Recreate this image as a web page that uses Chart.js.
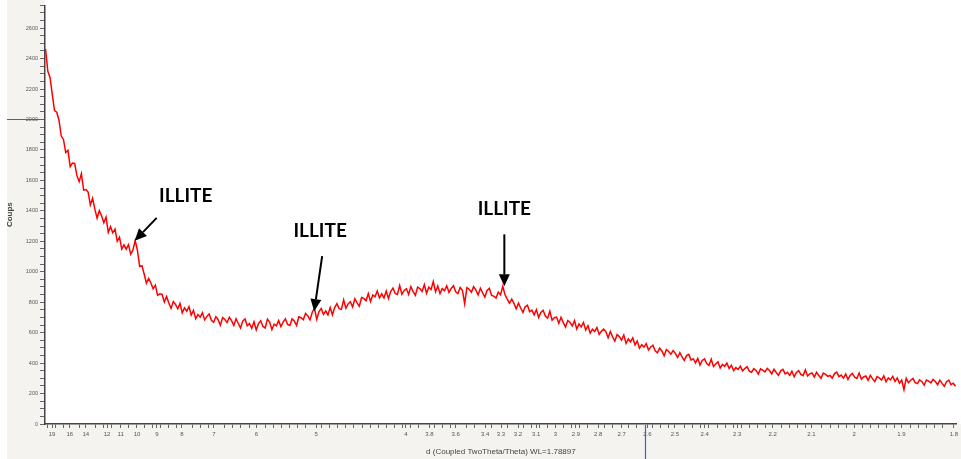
<!DOCTYPE html>
<html>
<head>
<meta charset="utf-8">
<script src="https://cdn.jsdelivr.net/npm/chart.js@4"></script>
<style>
  body { margin: 0; background: #fff; }
  #wrap { width: 961px; height: 459px; position: relative; }
</style>
</head>
<body>
<div id="wrap"><canvas id="xrd"></canvas></div>
<script>
// 1/d (1/Å) of each measured point, the x axis is laid out linearly in 1/d
const invD = [
  0.04900, 0.05025, 0.05150, 0.05275, 0.05400, 0.05525, 0.05650, 0.05775, 0.05900, 0.06025,
  0.06150, 0.06275, 0.06400, 0.06525, 0.06650, 0.06775, 0.06900, 0.07025, 0.07150, 0.07275,
  0.07400, 0.07525, 0.07650, 0.07775, 0.07900, 0.08025, 0.08150, 0.08275, 0.08400, 0.08525,
  0.08650, 0.08775, 0.08900, 0.09025, 0.09150, 0.09275, 0.09400, 0.09525, 0.09650, 0.09775,
  0.09900, 0.10025, 0.10150, 0.10275, 0.10400, 0.10525, 0.10650, 0.10775, 0.10900, 0.11025,
  0.11150, 0.11275, 0.11400, 0.11525, 0.11650, 0.11775, 0.11900, 0.12025, 0.12150, 0.12275,
  0.12400, 0.12525, 0.12650, 0.12775, 0.12900, 0.13025, 0.13150, 0.13275, 0.13400, 0.13525,
  0.13650, 0.13775, 0.13900, 0.14025, 0.14150, 0.14275, 0.14400, 0.14525, 0.14650, 0.14775,
  0.14900, 0.15025, 0.15150, 0.15275, 0.15400, 0.15525, 0.15650, 0.15775, 0.15900, 0.16025,
  0.16150, 0.16275, 0.16400, 0.16525, 0.16650, 0.16775, 0.16900, 0.17025, 0.17150, 0.17275,
  0.17400, 0.17525, 0.17650, 0.17775, 0.17900, 0.18025, 0.18150, 0.18275, 0.18400, 0.18525,
  0.18650, 0.18775, 0.18900, 0.19025, 0.19150, 0.19275, 0.19400, 0.19525, 0.19650, 0.19775,
  0.19900, 0.20025, 0.20150, 0.20275, 0.20400, 0.20525, 0.20650, 0.20775, 0.20900, 0.21025,
  0.21150, 0.21275, 0.21400, 0.21525, 0.21650, 0.21775, 0.21900, 0.22025, 0.22150, 0.22275,
  0.22400, 0.22525, 0.22650, 0.22775, 0.22900, 0.23025, 0.23150, 0.23275, 0.23400, 0.23525,
  0.23650, 0.23775, 0.23900, 0.24025, 0.24150, 0.24275, 0.24400, 0.24525, 0.24650, 0.24775,
  0.24900, 0.25025, 0.25150, 0.25275, 0.25400, 0.25525, 0.25650, 0.25775, 0.25900, 0.26025,
  0.26150, 0.26275, 0.26400, 0.26525, 0.26650, 0.26775, 0.26900, 0.27025, 0.27150, 0.27275,
  0.27400, 0.27525, 0.27650, 0.27775, 0.27900, 0.28025, 0.28150, 0.28275, 0.28400, 0.28525,
  0.28650, 0.28775, 0.28900, 0.29025, 0.29150, 0.29275, 0.29400, 0.29525, 0.29650, 0.29775,
  0.29900, 0.30025, 0.30150, 0.30275, 0.30400, 0.30525, 0.30650, 0.30775, 0.30900, 0.31025,
  0.31150, 0.31275, 0.31400, 0.31525, 0.31650, 0.31775, 0.31900, 0.32025, 0.32150, 0.32275,
  0.32400, 0.32525, 0.32650, 0.32775, 0.32900, 0.33025, 0.33150, 0.33275, 0.33400, 0.33525,
  0.33650, 0.33775, 0.33900, 0.34025, 0.34150, 0.34275, 0.34400, 0.34525, 0.34650, 0.34775,
  0.34900, 0.35025, 0.35150, 0.35275, 0.35400, 0.35525, 0.35650, 0.35775, 0.35900, 0.36025,
  0.36150, 0.36275, 0.36400, 0.36525, 0.36650, 0.36775, 0.36900, 0.37025, 0.37150, 0.37275,
  0.37400, 0.37525, 0.37650, 0.37775, 0.37900, 0.38025, 0.38150, 0.38275, 0.38400, 0.38525,
  0.38650, 0.38775, 0.38900, 0.39025, 0.39150, 0.39275, 0.39400, 0.39525, 0.39650, 0.39775,
  0.39900, 0.40025, 0.40150, 0.40275, 0.40400, 0.40525, 0.40650, 0.40775, 0.40900, 0.41025,
  0.41150, 0.41275, 0.41400, 0.41525, 0.41650, 0.41775, 0.41900, 0.42025, 0.42150, 0.42275,
  0.42400, 0.42525, 0.42650, 0.42775, 0.42900, 0.43025, 0.43150, 0.43275, 0.43400, 0.43525,
  0.43650, 0.43775, 0.43900, 0.44025, 0.44150, 0.44275, 0.44400, 0.44525, 0.44650, 0.44775,
  0.44900, 0.45025, 0.45150, 0.45275, 0.45400, 0.45525, 0.45650, 0.45775, 0.45900, 0.46025,
  0.46150, 0.46275, 0.46400, 0.46525, 0.46650, 0.46775, 0.46900, 0.47025, 0.47150, 0.47275,
  0.47400, 0.47525, 0.47650, 0.47775, 0.47900, 0.48025, 0.48150, 0.48275, 0.48400, 0.48525,
  0.48650, 0.48775, 0.48900, 0.49025, 0.49150, 0.49275, 0.49400, 0.49525, 0.49650, 0.49775,
  0.49900, 0.50025, 0.50150, 0.50275, 0.50400, 0.50525, 0.50650, 0.50775, 0.50900, 0.51025,
  0.51150, 0.51275, 0.51400, 0.51525, 0.51650, 0.51775, 0.51900, 0.52025, 0.52150, 0.52275,
  0.52400, 0.52525, 0.52650, 0.52775, 0.52900, 0.53025, 0.53150, 0.53275, 0.53400, 0.53525,
  0.53650, 0.53775, 0.53900, 0.54025, 0.54150, 0.54275, 0.54400, 0.54525, 0.54650, 0.54775,
  0.54900, 0.55025, 0.55150, 0.55275, 0.55400, 0.55525, 0.55650
];

// intensity (Coups)
const coups = [
  2464, 2318, 2276, 2165, 2059, 2048, 1995, 1891, 1869, 1783,
  1797, 1690, 1714, 1711, 1631, 1592, 1644, 1536, 1540, 1523,
  1439, 1482, 1411, 1352, 1401, 1368, 1322, 1359, 1259, 1296,
  1256, 1280, 1200, 1227, 1149, 1177, 1148, 1178, 1116, 1143,
  1205, 1140, 1035, 1040, 985, 925, 956, 926, 888, 912,
  845, 855, 851, 801, 838, 795, 759, 804, 785, 757,
  792, 730, 763, 741, 771, 715, 746, 691, 719, 702,
  731, 684, 707, 723, 681, 668, 705, 685, 649, 699,
  686, 666, 701, 679, 647, 691, 660, 631, 676, 690,
  645, 660, 629, 671, 617, 659, 678, 641, 631, 689,
  670, 621, 656, 645, 680, 640, 669, 691, 654, 647,
  690, 676, 647, 704, 698, 685, 726, 710, 684, 734,
  760, 687, 739, 759, 720, 742, 717, 765, 717, 765,
  790, 758, 753, 815, 760, 788, 803, 769, 823, 795,
  774, 831, 825, 809, 856, 804, 847, 835, 874, 828,
  855, 828, 874, 824, 870, 893, 858, 851, 910, 852,
  877, 889, 851, 902, 870, 845, 899, 890, 871, 915,
  859, 899, 883, 935, 869, 906, 856, 889, 875, 908,
  864, 890, 908, 868, 857, 896, 878, 790, 896, 885,
  866, 902, 880, 848, 892, 861, 834, 877, 891, 845,
  840, 827, 865, 848, 905, 849, 820, 793, 820, 792,
  757, 794, 762, 733, 770, 780, 737, 748, 717, 751,
  699, 733, 747, 709, 695, 741, 682, 698, 702, 661,
  701, 666, 637, 680, 667, 644, 679, 624, 657, 638,
  667, 617, 646, 597, 623, 607, 633, 589, 609, 623,
  607, 566, 607, 572, 544, 587, 574, 551, 585, 529,
  559, 540, 566, 519, 545, 498, 521, 505, 528, 487,
  506, 518, 481, 468, 498, 480, 448, 489, 476, 458,
  483, 464, 437, 468, 441, 417, 449, 457, 420, 429,
  402, 431, 387, 417, 428, 397, 385, 426, 378, 394,
  408, 368, 392, 379, 400, 365, 386, 351, 370, 359,
  379, 349, 364, 376, 347, 340, 364, 352, 328, 362,
  354, 342, 365, 351, 329, 359, 338, 319, 349, 359,
  329, 339, 319, 346, 310, 338, 350, 326, 318, 355,
  315, 329, 335, 308, 340, 318, 300, 334, 326, 313,
  319, 301, 331, 341, 311, 321, 301, 328, 292, 320,
  332, 307, 299, 335, 295, 309, 315, 287, 319, 296,
  278, 311, 303, 289, 317, 278, 303, 290, 313, 279,
  302, 268, 289, 225, 300, 271, 287, 300, 272, 265,
  290, 278, 255, 289, 282, 270, 293, 279, 258, 288,
  267, 248, 278, 288, 258, 268, 248
];

// labelled d-spacings on the x axis
const xTickLabels = [19, 16, 14, 12, 11, 10, 9, 8, 7, 6, 5, 4, 3.8, 3.6, 3.4, 3.3, 3.2, 3.1, 3,
  2.9, 2.8, 2.7, 2.6, 2.5, 2.4, 2.3, 2.2, 2.1, 2, 1.9, 1.8];

// illite reflections marked with arrows
const illiteLabels = ['ILLITE', 'ILLITE', 'ILLITE'];
const illiteD = [10.13, 5.03, 3.28];
const illiteCoups = [1203, 741, 904];

// cursor position left in the software
const cursorCoups = 2000;
const cursorD = 2.61;

const points = invD.map((q, i) => ({ x: q, y: coups[i] }));

// arrow tail + label offsets (px) from the arrow tip
const arrowLayout = [
  { tail: [22, -23], text: [51, -45] },
  { tail: [8, -55], text: [6, -80] },
  { tail: [0, -52], text: [0, -77] }
];

const bgPlugin = {
  id: 'bg',
  beforeDraw(chart) {
    const { ctx, chartArea } = chart;
    ctx.save();
    ctx.fillStyle = '#f4f3f0';
    ctx.fillRect(7, 0, chart.width - 7, chart.height);
    ctx.fillStyle = '#ffffff';
    ctx.fillRect(chartArea.left, 0, chart.width - chartArea.left, chartArea.bottom);
    ctx.restore();
  }
};

const extrasPlugin = {
  id: 'extras',
  afterDraw(chart) {
    const { ctx, chartArea } = chart;
    const xs = chart.scales.x, ys = chart.scales.y;

    // blue cursor marks
    ctx.save();
    ctx.strokeStyle = '#2f62e0';
    ctx.lineWidth = 1.2;
    const cy = Math.round(ys.getPixelForValue(cursorCoups)) + 0.5;
    ctx.beginPath(); ctx.moveTo(7, cy); ctx.lineTo(chartArea.left - 1, cy); ctx.stroke();
    const cx = Math.round(xs.getPixelForValue(1 / cursorD)) + 0.5;
    ctx.beginPath(); ctx.moveTo(cx, chartArea.bottom + 1); ctx.lineTo(cx, chart.height); ctx.stroke();
    ctx.restore();

    // illite arrows
    ctx.save();
    ctx.fillStyle = '#000';
    ctx.strokeStyle = '#000';
    ctx.lineWidth = 2;
    ctx.font = 'bold 19px Lato, "Open Sans", sans-serif';
    ctx.textAlign = 'center';
    ctx.textBaseline = 'middle';
    illiteD.forEach((d, i) => {
      const tx = xs.getPixelForValue(1 / d);
      const ty = ys.getPixelForValue(illiteCoups[i]);
      const lay = arrowLayout[i];
      const sx = tx + lay.tail[0], sy = ty + lay.tail[1];
      const ang = Math.atan2(ty - sy, tx - sx);
      const head = 12, half = 5.5;
      const bx = tx - head * Math.cos(ang), by = ty - head * Math.sin(ang);
      ctx.beginPath(); ctx.moveTo(sx, sy); ctx.lineTo(bx, by); ctx.stroke();
      ctx.beginPath();
      ctx.moveTo(tx, ty);
      ctx.lineTo(bx + half * Math.sin(ang), by - half * Math.cos(ang));
      ctx.lineTo(bx - half * Math.sin(ang), by + half * Math.cos(ang));
      ctx.closePath();
      ctx.fill();
      ctx.fillText(illiteLabels[i], tx + lay.text[0], ty + lay.text[1]);
    });
    ctx.restore();
  }
};

new Chart(document.getElementById('xrd'), {
  type: 'line',
  data: {
    datasets: [{
      data: points,
      borderColor: '#ff0000',
      borderWidth: 1.5,
      pointRadius: 0,
      tension: 0,
      fill: false
    }]
  },
  options: {
    responsive: true,
    maintainAspectRatio: false,
    animation: false,
    layout: { padding: { top: 2, right: 1, left: 0, bottom: 0 } },
    plugins: { legend: { display: false }, tooltip: { enabled: false } },
    scales: {
      x: {
        type: 'linear',
        min: 0.0487,
        max: 0.5572,
        afterBuildTicks(scale) {
          const major = xTickLabels.map(d => 1 / d);
          const ticks = major.map(v => ({ value: v }));
          // minor ticks in between
          for (let v = 0.05; v < 0.557; v += 0.0045) {
            if (major.every(m => Math.abs(m - v) > 0.0018)) ticks.push({ value: v });
          }
          ticks.sort((a, b) => a.value - b.value);
          scale.ticks = ticks;
        },
        afterFit(scale) { scale.height = 35; },
        ticks: {
          autoSkip: false,
          maxRotation: 0,
          padding: 3,
          color: '#555',
          font: { family: 'Liberation Sans, Arial', size: 6 },
          callback(value) {
            const d = xTickLabels.find(t => Math.abs(1 / t - value) < 1e-9);
            return d === undefined ? '' : String(d);
          }
        },
        grid: { drawOnChartArea: false, drawTicks: true, tickLength: 4, color: '#666' },
        border: { color: '#444', width: 1.5 },
        title: {
          display: true,
          text: 'd (Coupled TwoTheta/Theta) WL=1.78897',
          color: '#444',
          font: { family: 'Liberation Sans, Arial', size: 8 },
          padding: { top: 0, bottom: 2 }
        }
      },
      y: {
        min: 0,
        max: 2750,
        afterFit(scale) { scale.width = 45; },
        ticks: {
          stepSize: 50,
          autoSkip: false,
          padding: 2,
          color: '#555',
          font: { family: 'Liberation Sans, Arial', size: 5.5 },
          callback(value) { return value % 200 === 0 ? String(value) : ''; }
        },
        grid: { drawOnChartArea: false, drawTicks: true, tickLength: 5, color: '#666' },
        border: { color: '#444', width: 1.5 },
        title: {
          display: true,
          text: 'Coups',
          color: '#444',
          font: { family: 'Liberation Sans, Arial', size: 8, weight: 'bold' },
          padding: { top: 5, bottom: 0 }
        }
      }
    }
  },
  plugins: [bgPlugin, extrasPlugin]
});
</script>
</body>
</html>
